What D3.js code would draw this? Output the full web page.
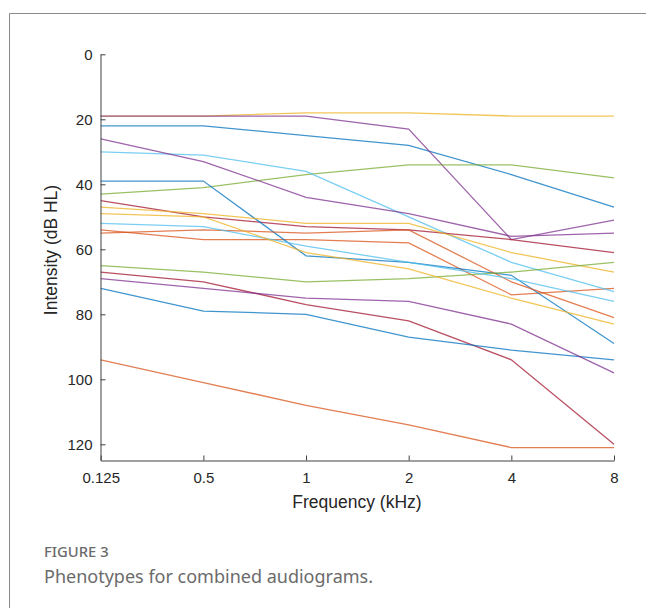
<!DOCTYPE html>
<html>
  <head>
    <meta charset="utf-8" />
    <script src="https://d3js.org/d3.v7.min.js"></script>
    <title>Phenotypes for combined audiograms</title>
    <style>
      body {
        margin: 0;
        background-color: white;
      }
      #canvas {
        display: block;
      }
      .tick text {
        font-family: "Liberation Sans", Arial, sans-serif;
        font-size: 15px;
        fill: #262626;
      }
      .caption {
        font-family: "Noto Sans", "Open Sans", sans-serif;
      }
    </style>
  </head>
  <body>
    <div id="svg">
      <svg id="canvas" width="646" height="608"></svg>
    </div>

    <script>
      // frequency categories (kHz) and y ticks
      const freqLabels = ["0.125", "0.5", "1", "2", "4", "8"];
      const yTicks = [0, 20, 40, 60, 80, 100, 120];

      // thresholds (dB HL) for each phenotype
      const blue1 = [22, 22, 25, 28, 37, 47];
      const orange1 = [54, 57, 57, 58, 74, 72];
      const yellow1 = [19, 19, 18, 18, 19, 19];
      const purple1 = [19, 19, 19, 23, 57, 51];
      const green1 = [43, 41, 37, 34, 34, 38];
      const lightblue1 = [30, 31, 36, 50, 64, 73];
      const darkred1 = [45, 50, 53, 54, 57, 61];
      const blue2 = [39, 39, 62, 64, 68, 89];
      const orange2 = [55, 54, 55, 54, 70, 81];
      const yellow2 = [47, 49, 52, 52, 61, 67];
      const purple2 = [26, 33, 44, 49, 56, 55];
      const green2 = [65, 67, 70, 69, 67, 64];
      const lightblue2 = [52, 53, 59, 64, 69, 76];
      const darkred2 = [67, 70, 77, 82, 94, 120];
      const blue3 = [72, 79, 80, 87, 91, 94];
      const orange3 = [94, 101, 108, 114, 121, 121];
      const yellow3 = [49, 50, 61, 66, 75, 83];
      const purple3 = [69, 72, 75, 76, 83, 98];

      const allSeries = [
        blue1, orange1, yellow1, purple1, green1, lightblue1, darkred1,
        blue2, orange2, yellow2, purple2, green2, lightblue2, darkred2,
        blue3, orange3, yellow3, purple3,
      ];

      // matlab default line colour order
      const colors = [
        "#0072BD", "#D95319", "#EDB120", "#7E2F8E",
        "#77AC30", "#4DBEEE", "#A2142F",
      ];

      const svg = d3.select("#canvas");

      // figure frame (top + left edge)
      svg.append("path")
        .attr("d", "M9.5,608 V13.5 H646")
        .style("fill", "none")
        .style("stroke", "#8a8a8a")
        .style("stroke-width", "1px");

      let xScale = d3.scalePoint().domain(freqLabels).range([100.7, 614]);
      let yScale = d3.scaleLinear().domain([0, 125]).range([54.3, 460.55]);

      let lineGenerator = d3
        .line()
        .x((d, i) => xScale(freqLabels[i]))
        .y((d) => yScale(d));

      let chart = svg.append("g").attr("id", "chart");

      chart
        .selectAll(".lines")
        .data(allSeries)
        .enter()
        .append("path")
        .attr("class", "lines")
        .attr("d", lineGenerator)
        .style("fill", "none")
        .style("stroke", (d, i) => colors[i % colors.length])
        .style("stroke-opacity", 0.75)
        .style("stroke-width", "1.3px");

      let yAxis = d3
        .axisLeft(yScale)
        .tickValues(yTicks)
        .tickSizeInner(-5)
        .tickSizeOuter(0)
        .tickPadding(8);
      let yLine = chart
        .append("g")
        .attr("transform", "translate(100.5,0)")
        .call(yAxis);

      let xAxis = d3
        .axisBottom(xScale)
        .tickSizeInner(-5)
        .tickSizeOuter(0)
        .tickPadding(12);
      let xLine = chart
        .append("g")
        .attr("transform", "translate(0,460.5)")
        .call(xAxis);

      [xLine, yLine].forEach((g) => {
        g.selectAll("path, line").style("stroke", "#404040");
      });

      svg.append("text")
        .text("Intensity (dB HL)")
        .attr("transform", "translate(57,250) rotate(-90)")
        .attr("text-anchor", "middle")
        .style("font-family", "'Liberation Sans', Arial, sans-serif")
        .style("font-size", "17.5px")
        .style("fill", "#262626");

      svg.append("text")
        .text("Frequency (kHz)")
        .attr("x", 357)
        .attr("y", 508)
        .attr("text-anchor", "middle")
        .style("font-family", "'Liberation Sans', Arial, sans-serif")
        .style("font-size", "17.5px")
        .style("fill", "#262626");

      svg.append("text")
        .attr("class", "caption")
        .text("FIGURE 3")
        .attr("x", 44)
        .attr("y", 557)
        .style("font-size", "14.8px")
        .style("font-weight", "500")
        .style("fill", "#6b6b6b");

      svg.append("text")
        .attr("class", "caption")
        .text("Phenotypes for combined audiograms.")
        .attr("x", 44)
        .attr("y", 583)
        .style("font-size", "18px")
        .style("fill", "#6b6b6b");
    </script>
  </body>
</html>
